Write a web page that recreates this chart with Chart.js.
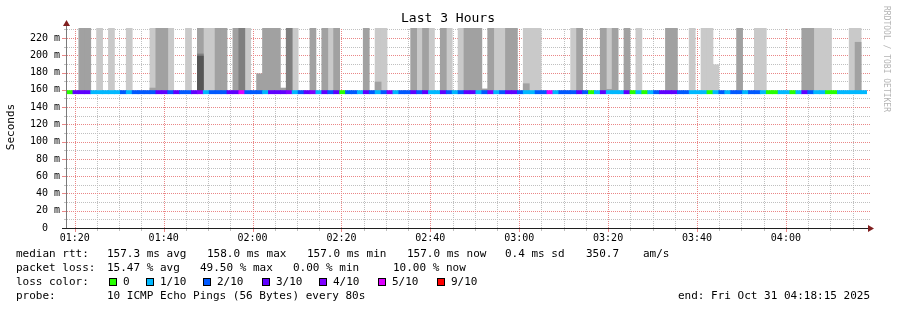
<!DOCTYPE html>
<html><head><meta charset="utf-8">
<script src="https://cdn.jsdelivr.net/npm/chart.js@4/dist/chart.umd.min.js"></script>
<style>html,body{margin:0;padding:0;background:#fff;}#wrap{position:relative;width:897px;height:310px;}</style>
</head><body><div id="wrap"><canvas id="c" width="897" height="310"></canvas></div>
<script>
// ---- data ----
const START_SEC = 4695;   // 01:18:15
const END_SEC = 15495;    // 04:18:15
const STEP_SEC = 80;
const MINOR_SEC = 300;
const MAJOR_SEC = 1200;
const Y_MAX = 231.6;
const TITLE = 'Last 3 Hours';
const Y_TITLE = 'Seconds';
const CREDIT = 'RRDTOOL / TOBI OETIKER';

const lossLevels = [0, 1, 2, 3, 4, 5, 9];
const lossLabels = ['0', '1/10', '2/10', '3/10', '4/10', '5/10', '9/10'];
const lossColors = ['#26ff00', '#00b8ff', '#0059ff', '#5e00ff', '#7e00ff', '#dd00ff', '#ff0000'];

const median = [
157.3,157.3,157.3,157.3,157.3,157.3,157.3,157.3,157.3,157.3,
157.3,157.3,157.3,157.3,157.3,157.3,157.3,157.3,157.3,157.3,
157.3,157.3,157.3,157.3,157.3,157.3,157.3,157.3,157.3,157.3,
157.3,157.3,157.3,157.3,157.3,157.3,157.3,157.3,157.3,157.3,
157.3,157.3,157.3,157.3,157.3,157.3,157.3,157.3,157.3,157.3,
157.3,157.3,157.3,157.3,157.3,157.3,157.3,157.3,157.3,157.3,
157.3,157.3,157.3,157.3,157.3,157.3,157.3,157.3,157.3,157.3,
157.3,157.3,157.3,157.3,157.3,157.3,157.3,157.3,157.3,157.3,
157.3,157.3,157.3,157.3,157.3,157.3,157.3,157.3,157.3,157.3,
157.3,157.3,157.3,157.3,157.3,157.3,157.3,157.3,157.3,157.3,
157.3,157.3,157.3,157.3,157.3,157.3,157.3,157.3,157.3,157.3,
157.3,157.3,157.3,157.3,157.3,157.3,157.3,157.3,157.3,157.3,
157.3,157.3,157.3,157.3,157.3,157.3,157.3,157.3,157.3,157.3,
157.3,157.3,157.3,157.3,157.3];

const loss = [
0,3,3,3,1,1,1,1,1,2,
1,2,2,2,2,3,3,2,3,2,
2,3,4,1,2,2,2,3,3,5,
2,2,2,1,3,3,3,4,1,2,
3,4,1,3,2,3,0,2,2,1,
3,2,1,2,4,1,2,2,3,2,
3,1,1,3,2,1,2,3,3,1,
2,4,1,2,3,3,2,1,1,2,
2,5,1,2,2,2,3,2,0,1,
3,1,1,1,3,0,1,0,1,2,
3,3,3,2,2,1,1,1,0,1,
2,1,2,2,1,2,2,1,0,0,
1,1,0,1,3,2,1,1,0,0,
1,1,1,1,1];

const smokeBase = 156;
const lightTop = [
null,null,null,null,null,232,null,232,null,null,
232,null,null,null,232,null,null,232,null,null,
232,null,null,232,232,null,null,null,null,null,
232,null,null,null,null,null,null,null,232,null,
null,null,null,null,232,null,null,null,null,null,
null,null,232,232,null,null,null,null,null,232,
null,232,null,null,232,null,232,null,null,null,
null,null,232,232,null,null,null,232,232,232,
null,null,null,null,null,232,null,null,null,null,
null,232,null,null,null,null,232,null,null,null,
null,null,null,null,null,232,null,232,232,189,
null,null,null,null,null,null,232,232,null,null,
null,null,null,null,null,null,232,232,232,null,
null,null,232,232,null];
const medTop = [
null,null,232,232,null,null,null,null,null,null,
null,null,null,null,162,232,232,null,null,null,
null,null,232,null,null,232,232,null,232,null,
null,null,178.5,232,232,232,162,null,null,null,
null,232,null,232,null,232,null,null,null,null,
232,null,169,null,null,null,null,null,232,null,
232,null,null,232,null,null,null,232,232,232,
161,232,null,null,232,232,null,167,null,null,
null,null,null,null,null,null,232,null,null,null,
232,160.5,232,null,232,null,null,null,null,null,
null,232,232,null,null,null,null,null,null,null,
null,null,null,232,null,null,null,null,null,null,
null,null,null,null,232,232,null,null,null,null,
null,null,null,215,null];
const darkTop = [
null,null,null,null,null,null,null,null,null,null,
null,null,null,null,null,null,null,null,null,null,
null,null,201.5,null,null,null,null,null,null,232,
null,null,null,null,null,null,null,232,null,null,
null,null,null,null,null,null,null,null,null,null,
null,null,null,null,null,null,null,null,null,null,
null,null,null,null,null,null,null,null,null,null,
null,null,null,null,null,null,null,null,null,null,
null,null,null,null,null,null,null,null,null,null,
null,null,null,null,null,null,null,null,null,null,
null,null,null,null,null,null,null,null,null,null,
null,null,null,null,null,null,null,null,null,null,
null,null,null,null,null,null,null,null,null,null,
null,null,null,null,null];
const darkestTop = [
null,null,null,null,null,null,null,null,null,null,
null,null,null,null,null,null,null,null,null,null,
null,null,199,null,null,null,null,null,null,null,
null,null,null,null,null,null,null,null,null,null,
null,null,null,null,null,null,null,null,null,null,
null,null,null,null,null,null,null,null,null,null,
null,null,null,null,null,null,null,null,null,null,
null,null,null,null,null,null,null,null,null,null,
null,null,null,null,null,null,null,null,null,null,
null,null,null,null,null,null,null,null,null,null,
null,null,null,null,null,null,null,null,null,null,
null,null,null,null,null,null,null,null,null,null,
null,null,null,null,null,null,null,null,null,null,
null,null,null,null,null];

const legendRtt = ['median rtt:', '157.3 ms avg', '158.0 ms max', '157.0 ms min', '157.0 ms now', '0.4 ms sd', '350.7', 'am/s'];
const legendLoss = ['packet loss:', '15.47 % avg', '49.50 % max', '0.00 % min', '10.00 % now'];
const legendProbe = ['probe:', '10 ICMP Echo Pings (56 Bytes) every 80s'];
const endText = 'end: Fri Oct 31 04:18:15 2025';

// ---- build ----
function hhmm(s){s=((s%86400)+86400)%86400;const h=Math.floor(s/3600),m=Math.floor((s%3600)/60);return String(h).padStart(2,'0')+':'+String(m).padStart(2,'0');}
const categories = median.map((_, i) => hhmm(START_SEC + i * STEP_SEC));
const colorOf = l => lossColors[lossLevels.indexOf(l)] || '#ff0000';
const LINE_HALF = 1.8;
const range = (tops) => tops.map(t => t == null ? null : [smokeBase, t]);

const MONO = '"DejaVu Sans Mono", "Liberation Mono", monospace';
const MAJ = 'rgb(234,135,135)';
const MIN = 'rgb(192,192,192)';

const gridPlugin = {
  id: 'rrdgrid',
  beforeDatasetsDraw(chart) {
    const c = chart.ctx, a = chart.chartArea;
    const xs = chart.scales.x2, ys = chart.scales.y;
    c.save();
    const top = Math.round(a.top), bot = Math.round(a.bottom), left = Math.round(a.left), right = Math.round(a.right) + 2;
    const vline = (px) => { for (let y = bot - 1; y >= top; y -= 2) c.fillRect(px, y, 1, 1); };
    const hline = (py) => { for (let x = left; x <= right; x += 2) c.fillRect(x, py, 1, 1); };
    [false, true].forEach(pass => {
      c.fillStyle = pass ? MAJ : MIN;
      xs.ticks.forEach(t => {
        if ((t.value % MAJOR_SEC === 0) !== pass) return;
        vline(Math.round(xs.getPixelForValue(t.value)));
      });
      ys.ticks.forEach(t => {
        if ((t.value % 20 === 0) !== pass || t.value === 0) return;
        hline(Math.round(ys.getPixelForValue(t.value)));
      });
    });
    c.restore();
  },
  afterDraw(chart) {
    const c = chart.ctx, a = chart.chartArea;
    c.save();
    const ys = chart.scales.y;
    ys.ticks.forEach(t => {
      const major = t.value % 20 === 0;
      const p = Math.round(ys.getPixelForValue(t.value));
      c.fillStyle = major ? MAJ : MIN;
      c.fillRect(major ? 62 : 64, p, major ? 4 : 2, 1);
    });
    const xs = chart.scales.x2;
    xs.ticks.forEach(t => {
      const major = t.value % MAJOR_SEC === 0;
      const p = Math.round(xs.getPixelForValue(t.value));
      c.fillStyle = major ? MAJ : MIN;
      c.fillRect(p, a.bottom + 1, 1, major ? 3 : 2);
    });
    c.fillStyle = '#7a7a7a';
    c.fillRect(a.left - 1, 24, 1, a.bottom - 24);
    c.fillStyle = '#1f1f1f';
    c.fillRect(62, a.bottom, 807, 1);
    c.fillStyle = '#801f1f';
    c.beginPath(); c.moveTo(a.left - 4, 26); c.lineTo(a.left + 3, 26); c.lineTo(a.left - 0.5, 20); c.closePath(); c.fill();
    c.beginPath(); c.moveTo(868, a.bottom - 3); c.lineTo(868, a.bottom + 4); c.lineTo(874, a.bottom + 0.5); c.closePath(); c.fill();
    c.fillStyle = '#000';
    c.font = '13px ' + MONO; c.textAlign = 'center'; c.textBaseline = 'middle';
    c.fillText(TITLE, 448, 19);
    c.save(); c.translate(11, 127); c.rotate(-Math.PI / 2);
    c.font = '11px ' + MONO; c.fillText(Y_TITLE, 0, 0); c.restore();
    c.save(); c.translate(886, 59); c.rotate(Math.PI / 2);
    c.fillStyle = '#b4b4b4'; c.font = '8px ' + MONO; c.fillText(CREDIT, 0, 0); c.restore();
    c.font = '11px ' + MONO; c.textAlign = 'left'; c.fillStyle = '#000';
    const rttX = [16, 107, 207, 307, 407, 505, 586, 643];
    legendRtt.forEach((s, i) => c.fillText(s, rttX[i], 254));
    const lossX = [16, 107, 200, 293, 393];
    legendLoss.forEach((s, i) => c.fillText(s, lossX[i], 268));
    c.fillText('loss color:', 16, 282);
    const boxX = [109, 146, 203, 262, 319, 378, 437];
    lossLabels.forEach((s, i) => {
      c.fillStyle = lossColors[i]; c.fillRect(boxX[i], 278, 8, 8);
      c.strokeStyle = '#000'; c.lineWidth = 1; c.strokeRect(boxX[i] + 0.5, 278.5, 7, 7);
      c.fillStyle = '#000'; c.fillText(s, boxX[i] + 14, 282);
    });
    c.fillText(legendProbe[0], 16, 296);
    c.fillText(legendProbe[1], 107, 296);
    c.fillText(endText, 678, 296);
    c.restore();
  }
};

const barCommon = { grouped: false, barPercentage: 1, categoryPercentage: 1, borderWidth: 0, borderSkipped: false, inflateAmount: 0.4, xAxisID: 'x', yAxisID: 'y' };

new Chart(document.getElementById('c'), {
  type: 'bar',
  data: {
    labels: categories,
    datasets: [
      Object.assign({ label: 'median', order: 0, data: median.map(m => [m - LINE_HALF, m + LINE_HALF]), backgroundColor: loss.map(colorOf) }, barCommon),
      Object.assign({ label: 'smoke4', order: 1, data: range(darkestTop), backgroundColor: '#555555' }, barCommon),
      Object.assign({ label: 'smoke3', order: 2, data: range(darkTop), backgroundColor: '#7f7f7f' }, barCommon),
      Object.assign({ label: 'smoke2', order: 3, data: range(medTop), backgroundColor: '#a1a1a1' }, barCommon),
      Object.assign({ label: 'smoke1', order: 4, data: range(lightTop), backgroundColor: '#c9c9c9' }, barCommon)
    ]
  },
  options: {
    responsive: false, animation: false, devicePixelRatio: 1,
    layout: { padding: { left: 0, right: 30, top: 28, bottom: 0 } },
    plugins: { legend: { display: false }, tooltip: { enabled: false }, title: { display: false } },
    scales: {
      x: { type: 'category', display: false, offset: true, grid: { display: false } },
      x2: {
        type: 'linear', position: 'bottom', min: START_SEC, max: END_SEC, offset: false,
        afterFit: s => { s.height = 82; },
        afterBuildTicks: s => {
          const t = [];
          for (let v = Math.ceil(START_SEC / MINOR_SEC) * MINOR_SEC; v <= END_SEC; v += MINOR_SEC) t.push({ value: v });
          s.ticks = t;
        },
        ticks: { autoSkip: false, maxRotation: 0, padding: 4,
          font: { family: MONO, size: 10 }, color: '#000',
          callback: v => (v % MAJOR_SEC === 0) ? hhmm(v) : '' },
        grid: { display: false, offset: false, drawTicks: false },
        border: { display: false }
      },
      y: {
        type: 'linear', min: 0, max: Y_MAX,
        afterFit: s => { s.width = 67; },
        ticks: { stepSize: 10, includeBounds: false, autoSkip: false, padding: 7,
          font: { family: MONO, size: 10 }, color: '#000',
          callback: v => (v % 20 !== 0) ? '' : (v === 0 ? '0  ' : v + ' m') },
        grid: { display: false, drawTicks: false },
        border: { display: false }
      }
    }
  },
  plugins: [gridPlugin]
});
</script></body></html>
